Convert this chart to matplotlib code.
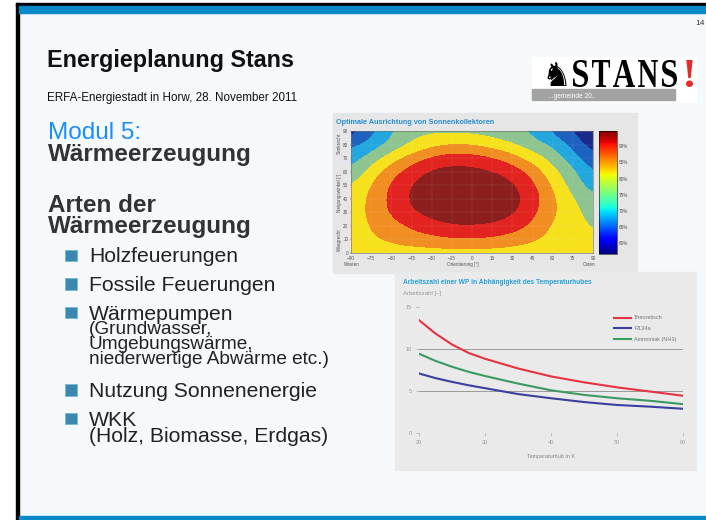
import numpy as np
import matplotlib
matplotlib.use("Agg")
import matplotlib.pyplot as plt
from matplotlib.patches import Rectangle, PathPatch
from matplotlib.colors import ListedColormap, BoundaryNorm, Normalize
from matplotlib.textpath import TextPath
from matplotlib.font_manager import FontProperties
from matplotlib.transforms import Affine2D
import matplotlib.cm as cm

plt.rcParams['font.family'] = ['Liberation Sans', 'DejaVu Sans']

# Slide text
title = "Energieplanung Stans"
subtitle = "ERFA-Energiestadt in Horw, 28. November 2011"
bullets = [["Holzfeuerungen"],
           ["Fossile Feuerungen"],
           ["Wärmepumpen", "(Grundwasser,", "Umgebungswärme,", "niederwertige Abwärme etc.)"],
           ["Nutzung Sonnenenergie"],
           ["WKK", "(Holz, Biomasse, Erdgas)"]]

# Contour chart: efficiency (%) by orientation and tilt
azimuth = [-90, -75, -60, -45, -30, -15, 0, 15, 30, 45, 60, 75, 90]
tilt = [0, 10, 20, 30, 40, 50, 60, 70, 80, 90]
eff_t0 = [82.5, 82.5, 82.5, 82.5, 82.5, 82.5, 82.5, 82.5, 82.5, 82.5, 82.5, 82.5, 82.5]
eff_t10 = [83.5, 84.3, 86.0, 87.5, 88.5, 89.6, 89.6, 89.2, 87.5, 85.5, 83.5, 82.5, 81.0]
eff_t20 = [82.5, 85.2, 88.0, 90.8, 93.5, 95.3, 95.4, 94.9, 92.8, 89.3, 84.0, 82.5, 79.3]
eff_t30 = [82.0, 86.3, 90.8, 94.8, 96.8, 97.2, 97.2, 97.0, 96.2, 91.5, 85.8, 82.0, 77.5]
eff_t40 = [81.5, 86.3, 91.5, 96.0, 97.8, 98.0, 98.0, 97.8, 97.3, 92.8, 86.0, 80.5, 76.0]
eff_t50 = [79.8, 85.3, 90.8, 95.7, 97.3, 97.6, 97.5, 97.3, 96.2, 91.5, 84.6, 78.0, 72.5]
eff_t60 = [75.5, 82.5, 88.0, 92.8, 96.3, 97.0, 96.8, 95.8, 93.3, 88.5, 81.5, 76.5, 69.7]
eff_t70 = [72.5, 77.5, 83.0, 87.5, 91.2, 93.0, 92.5, 90.8, 87.5, 83.0, 78.5, 72.5, 66.0]
eff_t80 = [68.5, 72.0, 76.5, 80.5, 83.5, 85.4, 85.0, 83.0, 80.5, 77.0, 74.5, 68.5, 62.5]
eff_t90 = [62.0, 68.5, 74.5, 78.5, 78.8, 78.5, 78.3, 77.5, 76.0, 74.3, 68.5, 64.8, 59.5]
band_levels = [0, 65, 70, 75, 80, 85, 90, 95, 100]
band_colors = ['#1b2a8a', '#1d62bf', '#22a7df', '#8dc48f', '#f6e11c', '#f18e22', '#e2231f', '#8c1e1e']

# Line chart: Arbeitszahl vs Temperaturhub
hub = [20, 22.5, 25, 27.5, 30, 35, 40, 45, 50, 55, 60]
theoretisch = [13.4, 11.8, 10.5, 9.5, 8.8, 7.65, 6.7, 6.0, 5.4, 4.9, 4.4]
r134a = [7.05, 6.5, 6.05, 5.65, 5.3, 4.6, 4.1, 3.65, 3.3, 3.1, 2.85]
ammoniak = [9.4, 8.55, 7.85, 7.25, 6.75, 5.85, 5.05, 4.5, 4.1, 3.8, 3.4]

W, H = 706, 520
fig = plt.figure(figsize=(W / 100, H / 100), dpi=100)
fig.patch.set_facecolor('white')

# slide in pixel coordinates
bg = fig.add_axes([0, 0, 1, 1], zorder=0)
bg.set_xlim(0, W)
bg.set_ylim(H, 0)
bg.axis('off')
bg.add_patch(Rectangle((19, 6), W - 19, H - 6, color='#f5f9fb'))
bg.add_patch(Rectangle((16, 3), 3, H - 3, color='black'))
bg.add_patch(Rectangle((16, 3), W - 16, 3, color='black'))
bg.add_patch(Rectangle((19, 6), W - 19, 7, color='#0a88c8'))
bg.add_patch(Rectangle((19, 516), W - 19, 4, color='#0a88c8'))
bg.text(700, 25, "14", fontsize=6, color='#333333', ha='center', va='baseline')

bg.text(47, 67, title, fontsize=16.8, fontweight='bold', color='#111111', va='baseline')
bg.text(47, 101, subtitle, fontsize=8.4, color='#111111', va='baseline')
bg.text(48, 139, "Modul 5:", fontsize=17.5, color='#1a8cff', va='baseline')
bg.text(48, 161.5, "Wärmeerzeugung", fontsize=17.5, fontweight='bold', color='#333333', va='baseline')
bg.text(48, 212.5, "Arten der", fontsize=17.5, fontweight='bold', color='#333333', va='baseline')
bg.text(48, 233.5, "Wärmeerzeugung", fontsize=17.5, fontweight='bold', color='#333333', va='baseline')

y = 262.5
for item in bullets:
    bg.add_patch(Rectangle((65, y - 13), 11.5, 11.5, facecolor='#3a88b0', edgecolor='#7bb7d2', lw=0.6))
    step = 14.8 if len(item) > 2 else 16.3
    for k, line in enumerate(item):
        size = 15.2 if (k == 0 or len(item) < 3) else 13.7
        bg.text(89, y + k * step, line, fontsize=size, color='#222222', va='baseline')
    y += step * (len(item) - 1) + 28.5 + (5 if len(item) > 1 else 0)

# logo
bg.add_patch(Rectangle((532, 57), 164, 45, color='white'))
bg.text(557, 86, "\u265e", family='DejaVu Sans', fontsize=24, color='black', ha='center', va='baseline')
fp = FontProperties(family='Liberation Serif', weight='bold')
for ch, x0, x1, col in [("S", 573, 588, 'black'), ("T", 592, 610, 'black'), ("A", 613, 635, 'black'),
                        ("N", 638, 658, 'black'), ("S", 662, 677, 'black'), ("!", 686, 693, '#e52a2a')]:
    tp = TextPath((0, 0), ch, size=1, prop=fp)
    ext = tp.get_extents()
    sx = (x1 - x0) / ext.width
    sy = 27 / ext.height
    tr = Affine2D().translate(-ext.x0, -ext.y0).scale(sx, -sy).translate(x0, 87)
    bg.add_patch(PathPatch(tr.transform_path(tp), color=col, lw=0))
bg.add_patch(Rectangle((532, 89), 143, 11, color='#a3a3a3'))
bg.text(548, 97.5, "...gemeinde 20..", fontsize=4.8, color='white', va='baseline')

# picture frames
bg.add_patch(Rectangle((333, 113), 304, 160, color='#e6e6e6'))
bg.add_patch(Rectangle((395, 272), 301, 198, color='#eaeaea'))

# contour chart
ax1 = fig.add_axes([351 / W, 1 - 253 / H, 242 / W, 122 / H])
grid = np.array([eff_t0, eff_t10, eff_t20, eff_t30, eff_t40, eff_t50, eff_t60, eff_t70, eff_t80, eff_t90])
cmap = ListedColormap(band_colors)
norm = BoundaryNorm(band_levels, cmap.N)
ax1.imshow(grid, origin='lower', cmap=cmap, norm=norm, interpolation='bicubic', aspect='auto',
           interpolation_stage='data',
           extent=(azimuth[0] - 7.5, azimuth[-1] + 7.5, tilt[0] - 5, tilt[-1] + 5))
ax1.set_xlim(-90, 90)
ax1.set_ylim(0, 90)
ax1.set_xticks(azimuth)
ax1.set_yticks(tilt)
ax1.tick_params(labelsize=3.3, colors='#555555', length=1, width=0.3, pad=1)
ax1.grid(color='white', lw=0.3, ls=':', alpha=0.5)
for s in ax1.spines.values():
    s.set_linewidth(0.4)
    s.set_color('#666666')
bg.text(336, 124.5, "Optimale Ausrichtung von Sonnenkollektoren", fontsize=5.2, fontweight='bold',
        color='#2a8fd0', va='baseline')
bg.text(352, 266, "Westen", fontsize=3.3, color='#555555', ha='center', va='baseline')
bg.text(589, 266, "Osten", fontsize=3.3, color='#555555', ha='center', va='baseline')
bg.text(463, 266, "Orientierung [°]", fontsize=3.3, color='#555555', ha='center', va='baseline')
bg.text(339, 143, "Senkrecht", fontsize=3.3, color='#555555', ha='center', va='center', rotation=90)
bg.text(339, 193, "Neigungswinkel [°]", fontsize=3.3, color='#555555', ha='center', va='center', rotation=90)
bg.text(339, 240, "Waagrecht", fontsize=3.3, color='#555555', ha='center', va='center', rotation=90)

cax = fig.add_axes([599 / W, 1 - 254 / H, 18 / W, 123 / H])
cb = fig.colorbar(cm.ScalarMappable(norm=Normalize(56.7, 94.7), cmap='jet'), cax=cax)
cb.set_ticks([60, 65, 70, 75, 80, 85, 90])
cb.set_ticklabels(['60%', '65%', '70%', '75%', '80%', '85%', '90%'])
cb.ax.tick_params(labelsize=3.3, colors='#555555', length=0, pad=1.5)
cb.outline.set_linewidth(0.4)

# line chart
ax2 = fig.add_axes([419 / W, 1 - 432.7 / H, 264 / W, 126 / H])
ax2.set_facecolor('none')
ax2.plot(hub, theoretisch, color='#e53341', lw=1.5, label='Theoretisch')
ax2.plot(hub, r134a, color='#3b3f9e', lw=1.5, label='R134a')
ax2.plot(hub, ammoniak, color='#3a9a60', lw=1.5, label='Ammoniak (NH3)')
for v in [5, 10]:
    ax2.axhline(v, color='#8c8c8c', lw=0.6, zorder=0)
ax2.axhline(0, color='#c8c8c8', lw=0.5, zorder=0)
ax2.set_xlim(20, 60)
ax2.set_ylim(0, 15)
ax2.set_xticks([20, 30, 40, 50, 60])
ax2.set_yticks([0, 5, 10, 15])
for s in ax2.spines.values():
    s.set_visible(False)
ax2.tick_params(labelsize=4, colors='#999999', length=2, width=0.4, pad=3)
ax2.set_xlabel("Temperaturhub in K", fontsize=4, color='#888888', labelpad=7)
ax2.legend(loc='upper right', bbox_to_anchor=(0.995, 0.97), frameon=False, fontsize=4,
           labelcolor='#777777', handlelength=3, handletextpad=0.6, labelspacing=1.0)
bg.text(403, 284.5, "Arbeitszahl einer WP in Abhängigkeit des Temperaturhubes", fontsize=4.8,
        fontweight='bold', color='#2aa0d8', va='baseline')
bg.text(403, 295, "Arbeitszahl [–]", fontsize=4.3, color='#999999', va='baseline')

fig.savefig('out.png', dpi=100)
